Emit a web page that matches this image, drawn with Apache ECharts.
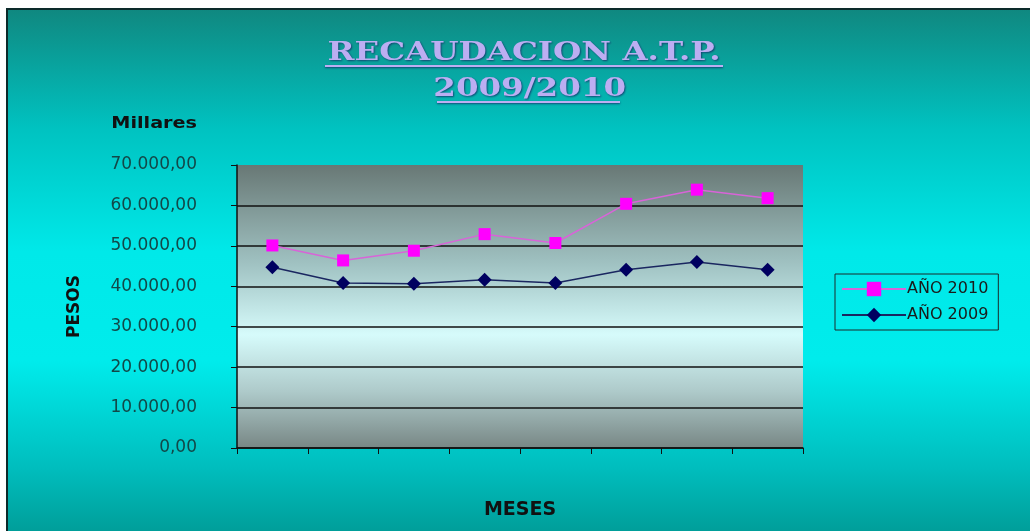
<!DOCTYPE html>
<html>
<head>
<meta charset="utf-8">
<title>Recaudacion A.T.P. 2009/2010</title>
<script src="https://cdn.jsdelivr.net/npm/echarts@6/dist/echarts.min.js"></script>
<style>
  html, body { margin: 0; padding: 0; background: #fff; }
  #chart { width: 1030px; height: 531px; }
</style>
</head>
<body>
<div id="chart"></div>
<script>
// meses (sin rotulo en el original)
var meses = ['Ene', 'Feb', 'Mar', 'Abr', 'May', 'Jun', 'Jul', 'Ago']
// pesos, en millares
var anio2010 = [50100, 46400, 48800, 52900, 50700, 60400, 63900, 61800]
var anio2009 = [44700, 40800, 40600, 41600, 40800, 44100, 46000, 44100]
var serieNombres = ['AÑO 2010', 'AÑO 2009']
var tituloLineas = ['RECAUDACION A.T.P.', ' 2009/2010']

function formatoPesos(v) {
  var entero = Math.round(v).toString().replace(/\B(?=(\d{3})+(?!\d))/g, '.')
  return entero + ',00'
}

var chart = echarts.init(document.getElementById('chart'))

var fondo = new echarts.graphic.LinearGradient(0, 0, 0, 1, [
  { offset: 0, color: '#10877f' },
  { offset: 0.22, color: '#00c2c0' },
  { offset: 0.45, color: '#00e9e9' },
  { offset: 0.65, color: '#00ecec' },
  { offset: 0.85, color: '#00bdbd' },
  { offset: 1, color: '#00958f' }
])
var fondoGrid = new echarts.graphic.LinearGradient(0, 0, 0, 1, [
  { offset: 0, color: '#687875' },
  { offset: 0.35, color: '#a0c2c2' },
  { offset: 0.6, color: '#d6fbfb' },
  { offset: 0.8, color: '#aecaca' },
  { offset: 1, color: '#788785' }
])
var tituloColor = '#bcaef2'
var tituloSombra = 'rgba(20, 40, 100, 0.75)'

function tituloTexto(texto, x, y) {
  return {
    type: 'text',
    x: x,
    y: y,
    scaleX: 1.25,
    style: {
      text: texto,
      align: 'center',
      verticalAlign: 'middle',
      fill: tituloColor,
      font: 'bold 26px "DejaVu Serif"',
      textShadowColor: tituloSombra,
      textShadowBlur: 2,
      textShadowOffsetX: 1,
      textShadowOffsetY: 1
    }
  }
}

chart.setOption({
  backgroundColor: '#ffffff',
  animation: false,
  graphic: [
    {
      type: 'rect',
      z: -10,
      silent: true,
      shape: { x: 7, y: 9, width: 1040, height: 540 },
      style: { fill: fondo, stroke: '#0c2a2a', lineWidth: 2 }
    },
    tituloTexto(tituloLineas[0], 524, 53),
    tituloTexto(tituloLineas[1], 524, 89),
    {
      type: 'line',
      shape: { x1: 325, y1: 66, x2: 723, y2: 66 },
      style: { stroke: tituloColor, lineWidth: 2, shadowColor: tituloSombra, shadowBlur: 2, shadowOffsetY: 1 }
    },
    {
      type: 'line',
      shape: { x1: 437, y1: 102, x2: 620, y2: 102 },
      style: { stroke: tituloColor, lineWidth: 2, shadowColor: tituloSombra, shadowBlur: 2, shadowOffsetY: 1 }
    },
    {
      type: 'text',
      x: 197,
      y: 124,
      scaleX: 1.2,
      style: {
        text: 'Millares',
        align: 'right',
        verticalAlign: 'middle',
        fill: '#111',
        font: 'bold 16px "DejaVu Sans"'
      }
    }
  ],
  grid: {
    left: 237,
    right: 227,
    top: 165,
    bottom: 83,
    show: true,
    backgroundColor: fondoGrid,
    borderWidth: 0
  },
  legend: {
    orient: 'vertical',
    left: 835,
    top: 274,
    padding: [7, 10, 7, 6],
    itemGap: 10,
    itemWidth: 64,
    itemHeight: 18,
    borderColor: '#1a2a2a',
    borderWidth: 1,
    data: serieNombres,
    textStyle: {
      fontFamily: 'DejaVu Sans',
      fontSize: 16,
      color: '#1a1a1a',
      padding: [0, 0, 0, -4]
    }
  },
  xAxis: {
    type: 'category',
    data: meses,
    boundaryGap: true,
    name: 'MESES',
    nameLocation: 'middle',
    nameGap: 53,
    nameTextStyle: {
      fontFamily: 'DejaVu Sans',
      fontWeight: 'bold',
      fontSize: 19,
      color: '#111'
    },
    axisLine: { lineStyle: { color: '#111', width: 1.5 } },
    axisTick: { show: true, length: 6, lineStyle: { color: '#111' } },
    axisLabel: { show: false },
    splitLine: { show: false }
  },
  yAxis: {
    type: 'value',
    min: 0,
    max: 70000,
    interval: 10000,
    name: 'PESOS',
    nameLocation: 'middle',
    nameRotate: 90,
    nameGap: 154,
    nameTextStyle: {
      fontFamily: 'DejaVu Sans',
      fontWeight: 'bold',
      fontSize: 17,
      color: '#111'
    },
    axisLine: { show: true, lineStyle: { color: '#111', width: 1.5 } },
    axisTick: { show: true, length: 6, lineStyle: { color: '#111' } },
    axisLabel: {
      margin: 40,
      fontFamily: 'DejaVu Sans',
      fontSize: 17,
      color: '#124848',
      formatter: formatoPesos
    },
    splitLine: {
      show: true,
      lineStyle: {
        color: ['#111', '#111', '#111', '#111', '#111', '#111', '#111', 'rgba(0,0,0,0)'],
        width: 1.5
      }
    }
  },
  series: [
    {
      name: serieNombres[0],
      type: 'line',
      data: anio2010,
      symbol: 'rect',
      symbolSize: 12,
      itemStyle: { color: '#ff00ff' },
      lineStyle: { color: '#d864d8', width: 1.5 }
    },
    {
      name: serieNombres[1],
      type: 'line',
      data: anio2009,
      symbol: 'diamond',
      symbolSize: 14,
      itemStyle: { color: '#000060' },
      lineStyle: { color: '#1a2660', width: 1.5 }
    }
  ]
})
</script>
</body>
</html>
